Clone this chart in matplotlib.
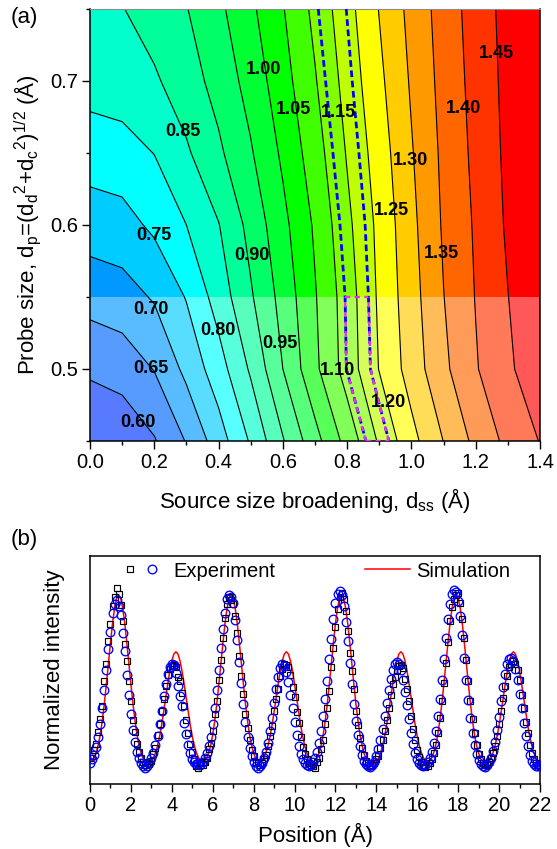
import numpy as np
import matplotlib
matplotlib.use("Agg")
import matplotlib.pyplot as plt
from matplotlib.ticker import MultipleLocator, FormatStrFormatter
from matplotlib.legend_handler import HandlerTuple
from matplotlib.lines import Line2D

plt.rcParams['font.family'] = ['Liberation Sans', 'DejaVu Sans']
plt.rcParams['mathtext.fontset'] = 'custom'
plt.rcParams['mathtext.rm'] = 'Liberation Sans'
plt.rcParams['mathtext.it'] = 'Liberation Sans:italic'
plt.rcParams['mathtext.bf'] = 'Liberation Sans:bold'

# ---------------- panel (a): FWHM map ----------------
d_ss = [0.0, 0.1, 0.2, 0.3, 0.4, 0.5, 0.6, 0.7, 0.8, 0.9, 1.0, 1.1, 1.2, 1.3, 1.4]
d_p = [0.45, 0.50, 0.55, 0.60, 0.65, 0.70, 0.75]
fwhm = [
    [0.550, 0.563, 0.596, 0.653, 0.726, 0.806, 0.896, 0.982, 1.068, 1.157, 1.234, 1.301, 1.363, 1.413, 1.452],
    [0.609, 0.621, 0.652, 0.713, 0.778, 0.857, 0.950, 1.039, 1.122, 1.202, 1.272, 1.339, 1.396, 1.442, 1.480],
    [0.669, 0.679, 0.705, 0.753, 0.822, 0.894, 0.968, 1.046, 1.125, 1.208, 1.280, 1.349, 1.402, 1.449, 1.495],
    [0.724, 0.731, 0.760, 0.800, 0.848, 0.916, 0.986, 1.057, 1.138, 1.213, 1.287, 1.356, 1.406, 1.457, 1.505],
    [0.773, 0.780, 0.801, 0.843, 0.891, 0.945, 1.009, 1.077, 1.154, 1.225, 1.296, 1.361, 1.412, 1.461, 1.505],
    [0.820, 0.826, 0.843, 0.877, 0.918, 0.969, 1.030, 1.096, 1.169, 1.239, 1.306, 1.367, 1.417, 1.464, 1.508],
    [0.840, 0.848, 0.873, 0.898, 0.939, 0.990, 1.047, 1.113, 1.182, 1.252, 1.315, 1.372, 1.422, 1.467, 1.510],
]
line_levels = [0.60, 0.65, 0.70, 0.75, 0.80, 0.85, 0.90, 0.95, 1.00, 1.05,
               1.10, 1.15, 1.20, 1.25, 1.30, 1.35, 1.40, 1.45]
fill_levels = [0.50] + line_levels + [1.60]
fill_colors = ['#0033FF', '#0066FF', '#0099FF', '#00CCFF', '#00FFFF', '#00FFCC',
               '#00FF99', '#00FF66', '#00FF33', '#00FF00', '#40FF00', '#80FF00',
               '#C0FF00', '#FFFF00', '#FFCC00', '#FF9900', '#FF6600', '#FF3300', '#FF0000']
band_levels = [1.12, 1.18]
shade_range = [0.45, 0.55]
label_pos = [(0.149, 0.463), (0.19, 0.500), (0.19, 0.541), (0.20, 0.593),
             (0.398, 0.527), (0.29, 0.665), (0.503, 0.579), (0.591, 0.518),
             (0.539, 0.708), (0.633, 0.680), (0.77, 0.499), (0.773, 0.678),
             (0.928, 0.477), (0.939, 0.610), (0.996, 0.645), (1.094, 0.580),
             (1.161, 0.681), (1.265, 0.719)]

# ---------------- panel (b): line profile ----------------
position = np.round(np.arange(221) * 0.1, 1)
simulation = [
    0.098, 0.101, 0.114, 0.136, 0.170, 0.216, 0.278, 0.352, 0.438, 0.529,
    0.620, 0.704, 0.771, 0.815, 0.830, 0.815, 0.771, 0.704, 0.620, 0.529,
    0.438, 0.352, 0.278, 0.216, 0.169, 0.135, 0.111, 0.097, 0.090, 0.091,
    0.099, 0.113, 0.136, 0.167, 0.208, 0.258, 0.316, 0.378, 0.439, 0.495,
    0.540, 0.570, 0.580, 0.570, 0.540, 0.495, 0.439, 0.378, 0.316, 0.258,
    0.208, 0.168, 0.137, 0.116, 0.102, 0.098, 0.101, 0.114, 0.136, 0.170,
    0.216, 0.278, 0.352, 0.438, 0.529, 0.620, 0.704, 0.771, 0.815, 0.830,
    0.815, 0.771, 0.704, 0.620, 0.529, 0.438, 0.352, 0.278, 0.216, 0.169,
    0.136, 0.114, 0.101, 0.098, 0.102, 0.116, 0.137, 0.167, 0.208, 0.258,
    0.316, 0.378, 0.439, 0.495, 0.540, 0.570, 0.580, 0.570, 0.540, 0.495,
    0.439, 0.378, 0.316, 0.258, 0.208, 0.168, 0.137, 0.116, 0.102, 0.098,
    0.101, 0.114, 0.136, 0.170, 0.216, 0.278, 0.352, 0.438, 0.529, 0.620,
    0.704, 0.771, 0.815, 0.830, 0.815, 0.771, 0.704, 0.620, 0.529, 0.438,
    0.352, 0.278, 0.216, 0.169, 0.134, 0.110, 0.094, 0.086, 0.083, 0.088,
    0.096, 0.112, 0.135, 0.167, 0.208, 0.258, 0.316, 0.378, 0.439, 0.495,
    0.540, 0.570, 0.580, 0.570, 0.540, 0.495, 0.439, 0.378, 0.316, 0.258,
    0.208, 0.168, 0.137, 0.116, 0.102, 0.098, 0.101, 0.114, 0.136, 0.170,
    0.216, 0.278, 0.352, 0.438, 0.529, 0.620, 0.704, 0.771, 0.815, 0.830,
    0.815, 0.771, 0.704, 0.620, 0.529, 0.438, 0.352, 0.278, 0.216, 0.169,
    0.135, 0.111, 0.097, 0.090, 0.091, 0.099, 0.113, 0.136, 0.167, 0.208,
    0.258, 0.316, 0.378, 0.439, 0.495, 0.540, 0.570, 0.580, 0.570, 0.540,
    0.495, 0.439, 0.378, 0.316, 0.258, 0.208, 0.168, 0.137, 0.116, 0.102,
    0.098]
exp_squares = [
    0.112, 0.125, 0.150, 0.176, 0.228, 0.285, 0.343, 0.450, 0.525, 0.628,
    0.700, 0.782, 0.822, 0.858, 0.832, 0.785, 0.716, 0.612, 0.538, 0.452,
    0.362, 0.282, 0.228, 0.175, 0.140, 0.112, 0.098, 0.085, 0.092, 0.087,
    0.101, 0.132, 0.160, 0.215, 0.262, 0.318, 0.372, 0.428, 0.478, 0.505,
    0.518, 0.522, 0.512, 0.470, 0.452, 0.398, 0.340, 0.282, 0.222, 0.175,
    0.140, 0.108, 0.080, 0.072, 0.090, 0.083, 0.098, 0.112, 0.152, 0.182,
    0.232, 0.306, 0.362, 0.455, 0.542, 0.642, 0.728, 0.790, 0.820, 0.808,
    0.790, 0.735, 0.662, 0.560, 0.475, 0.395, 0.308, 0.245, 0.192, 0.150,
    0.122, 0.098, 0.090, 0.082, 0.094, 0.108, 0.128, 0.165, 0.212, 0.255,
    0.318, 0.372, 0.418, 0.475, 0.505, 0.525, 0.520, 0.512, 0.478, 0.425,
    0.382, 0.315, 0.268, 0.205, 0.162, 0.132, 0.108, 0.092, 0.085, 0.078,
    0.072, 0.098, 0.115, 0.155, 0.192, 0.262, 0.335, 0.408, 0.512, 0.598,
    0.690, 0.768, 0.818, 0.838, 0.812, 0.760, 0.672, 0.575, 0.495, 0.418,
    0.322, 0.258, 0.202, 0.158, 0.128, 0.102, 0.090, 0.078, 0.085, 0.092,
    0.110, 0.125, 0.158, 0.192, 0.232, 0.280, 0.335, 0.392, 0.440, 0.470,
    0.502, 0.518, 0.520, 0.508, 0.462, 0.415, 0.362, 0.298, 0.242, 0.192,
    0.148, 0.118, 0.095, 0.082, 0.076, 0.080, 0.092, 0.110, 0.135, 0.172,
    0.225, 0.288, 0.362, 0.445, 0.532, 0.625, 0.715, 0.775, 0.812, 0.828,
    0.838, 0.795, 0.722, 0.640, 0.545, 0.452, 0.362, 0.285, 0.222, 0.172,
    0.132, 0.108, 0.090, 0.082, 0.088, 0.096, 0.112, 0.138, 0.168, 0.210,
    0.262, 0.318, 0.378, 0.432, 0.472, 0.512, 0.528, 0.540, 0.525, 0.498,
    0.455, 0.392, 0.335, 0.272, 0.222, 0.172, 0.135, 0.108, 0.092, 0.082,
    0.078]
exp_circles = [
    0.090, 0.108, 0.128, 0.162, 0.205, 0.262, 0.335, 0.412, 0.498, 0.590,
    0.668, 0.748, 0.790, 0.805, 0.782, 0.742, 0.662, 0.585, 0.478, 0.392,
    0.305, 0.238, 0.185, 0.142, 0.112, 0.092, 0.078, 0.072, 0.080, 0.092,
    0.112, 0.135, 0.170, 0.212, 0.265, 0.322, 0.385, 0.438, 0.482, 0.512,
    0.525, 0.520, 0.488, 0.432, 0.385, 0.340, 0.268, 0.218, 0.172, 0.135,
    0.108, 0.095, 0.088, 0.092, 0.085, 0.098, 0.112, 0.135, 0.165, 0.208,
    0.262, 0.335, 0.412, 0.502, 0.598, 0.682, 0.752, 0.812, 0.828, 0.822,
    0.792, 0.718, 0.632, 0.535, 0.442, 0.352, 0.272, 0.205, 0.158, 0.122,
    0.095, 0.080, 0.072, 0.078, 0.090, 0.112, 0.142, 0.182, 0.232, 0.290,
    0.355, 0.415, 0.468, 0.508, 0.525, 0.518, 0.492, 0.448, 0.392, 0.332,
    0.272, 0.215, 0.168, 0.132, 0.108, 0.092, 0.082, 0.078, 0.085, 0.095,
    0.112, 0.142, 0.182, 0.232, 0.298, 0.372, 0.452, 0.548, 0.638, 0.722,
    0.792, 0.835, 0.848, 0.830, 0.782, 0.712, 0.628, 0.532, 0.440, 0.352,
    0.278, 0.215, 0.165, 0.128, 0.102, 0.088, 0.080, 0.076, 0.085, 0.098,
    0.122, 0.152, 0.195, 0.242, 0.298, 0.355, 0.412, 0.462, 0.502, 0.525,
    0.535, 0.528, 0.500, 0.455, 0.405, 0.348, 0.285, 0.225, 0.175, 0.138,
    0.110, 0.092, 0.082, 0.078, 0.085, 0.096, 0.115, 0.142, 0.182, 0.232,
    0.298, 0.372, 0.458, 0.548, 0.642, 0.722, 0.790, 0.835, 0.852, 0.842,
    0.802, 0.738, 0.652, 0.552, 0.458, 0.368, 0.288, 0.222, 0.170, 0.132,
    0.105, 0.088, 0.078, 0.076, 0.082, 0.095, 0.115, 0.145, 0.185, 0.235,
    0.295, 0.362, 0.425, 0.482, 0.525, 0.548, 0.552, 0.538, 0.505, 0.455,
    0.395, 0.332, 0.268, 0.212, 0.165, 0.128, 0.102, 0.088, 0.080, 0.078,
    0.082]

TICK_FS = 14.5
LABEL_FS = 16
LEGEND_FS = 14.5

fig = plt.figure(figsize=(5.57, 8.49), dpi=100)
ax = fig.add_axes([90 / 557, 1 - 441 / 849, 450 / 557, 432 / 849])
bx = fig.add_axes([90 / 557, 1 - 784 / 849, 450 / 557, 228 / 849])

# ---- (a) filled contour map
X, Y = np.meshgrid(d_ss, d_p)
Z = np.array(fwhm)
ax.contourf(X, Y, Z, levels=fill_levels, colors=fill_colors, zorder=1)
ax.axhspan(shade_range[0], shade_range[1], color='white', alpha=0.35, lw=0, zorder=1.5)
ax.contour(X, Y, Z, levels=line_levels, colors='black', linewidths=0.8, zorder=2)

# measured-width band: blue over the full range, magenta box in the shaded part
ax.contour(X, Y, Z, levels=band_levels, colors='#0000FF', linewidths=2.0,
           linestyles=[(0, (2.4, 1.3))], zorder=3)
n_low = sum(1 for v in d_p if v <= shade_range[1] + 1e-9)
ax.contour(X[:n_low], Y[:n_low], Z[:n_low], levels=band_levels, colors='#E633E6',
           linewidths=1.7, linestyles=[(1.9, (2.2, 1.9))], zorder=3.5)
for row in (0, n_low - 1):
    xa = np.interp(band_levels[0], Z[row], d_ss)
    xb = np.interp(band_levels[1], Z[row], d_ss)
    ax.plot([xa, xb], [d_p[row], d_p[row]], color='#E633E6', lw=1.7,
            ls=(0, (2.2, 1.9)), zorder=3.5)

for lev, (lx, ly) in zip(line_levels, label_pos):
    ax.text(lx, ly, f'{lev:.2f}', fontsize=13, fontweight='bold',
            ha='center', va='center', zorder=5)

ax.set_xlim(0, 1.4)
ax.set_ylim(0.45, 0.75)
ax.xaxis.set_major_locator(MultipleLocator(0.2))
ax.xaxis.set_minor_locator(MultipleLocator(0.1))
ax.xaxis.set_major_formatter(FormatStrFormatter('%.1f'))
ax.yaxis.set_major_locator(MultipleLocator(0.1))
ax.yaxis.set_minor_locator(MultipleLocator(0.05))
ax.yaxis.set_major_formatter(FormatStrFormatter('%.1f'))
ax.tick_params(which='both', direction='out', width=1.0, labelsize=TICK_FS,
               top=False, right=False)
ax.tick_params(which='major', length=5.5, pad=3)
ax.tick_params(which='minor', length=3)
for side in ('left', 'bottom', 'right'):
    ax.spines[side].set_linewidth(1.1)
ax.spines['top'].set_color('#8c8c8c')
ax.spines['top'].set_linewidth(0.8)
ax.set_xlabel('Source size broadening, d$_\\mathrm{ss}$ (Å)', fontsize=LABEL_FS, labelpad=10)
ax.set_ylabel('Probe size, d$_\\mathrm{p}$=(d$_\\mathrm{d}$$^\\mathrm{2}$+d$_\\mathrm{c}$$^\\mathrm{2}$)$^\\mathrm{1/2}$ (Å)',
              fontsize=LABEL_FS, labelpad=5)

# ---- (b) line profile
bx.plot(position, simulation, color='#FF0000', lw=1.1, zorder=2)
sq = bx.plot(position, exp_squares, ls='none', marker='s', ms=5.0, mfc='none',
             mec='black', mew=0.85, zorder=3)[0]
ci = bx.plot(position, exp_circles, ls='none', marker='o', ms=6.2, mfc='none',
             mec='#0000FF', mew=0.95, zorder=4)[0]
bx.set_xlim(0, 22)
bx.set_ylim(0, 1)
bx.set_yticks([])
bx.xaxis.set_major_locator(MultipleLocator(2))
bx.xaxis.set_minor_locator(MultipleLocator(1))
bx.tick_params(which='both', direction='out', width=1.0, labelsize=TICK_FS,
               top=False, right=False)
bx.tick_params(which='major', length=5.5, pad=3)
bx.tick_params(which='minor', length=3)
for side in bx.spines:
    bx.spines[side].set_linewidth(1.1)
bx.set_xlabel('Position (Å)', fontsize=LABEL_FS, labelpad=6)
bx.set_ylabel('Normalized intensity', fontsize=LABEL_FS, labelpad=18)

leg1 = bx.legend([(sq, ci)], ['Experiment'],
                 handler_map={tuple: HandlerTuple(ndivide=None, pad=0)},
                 loc='center left', bbox_to_anchor=(0.064, 0.934), frameon=False,
                 fontsize=LEGEND_FS, handlelength=2.2, handletextpad=0.5,
                 borderpad=0, borderaxespad=0, numpoints=1)
bx.add_artist(leg1)
sim_handle = Line2D([], [], color='#FF0000', lw=1.1)
bx.legend([sim_handle], ['Simulation'], loc='center left',
          bbox_to_anchor=(0.611, 0.934), frameon=False, fontsize=LEGEND_FS,
          handlelength=2.25, handletextpad=0.3, borderpad=0, borderaxespad=0)

fig.text(24 / 557, 1 - 17 / 849, '(a)', fontsize=LABEL_FS, ha='center', va='center')
fig.text(24 / 557, 1 - 540 / 849, '(b)', fontsize=LABEL_FS, ha='center', va='center')

fig.savefig('out.png', dpi=100)
